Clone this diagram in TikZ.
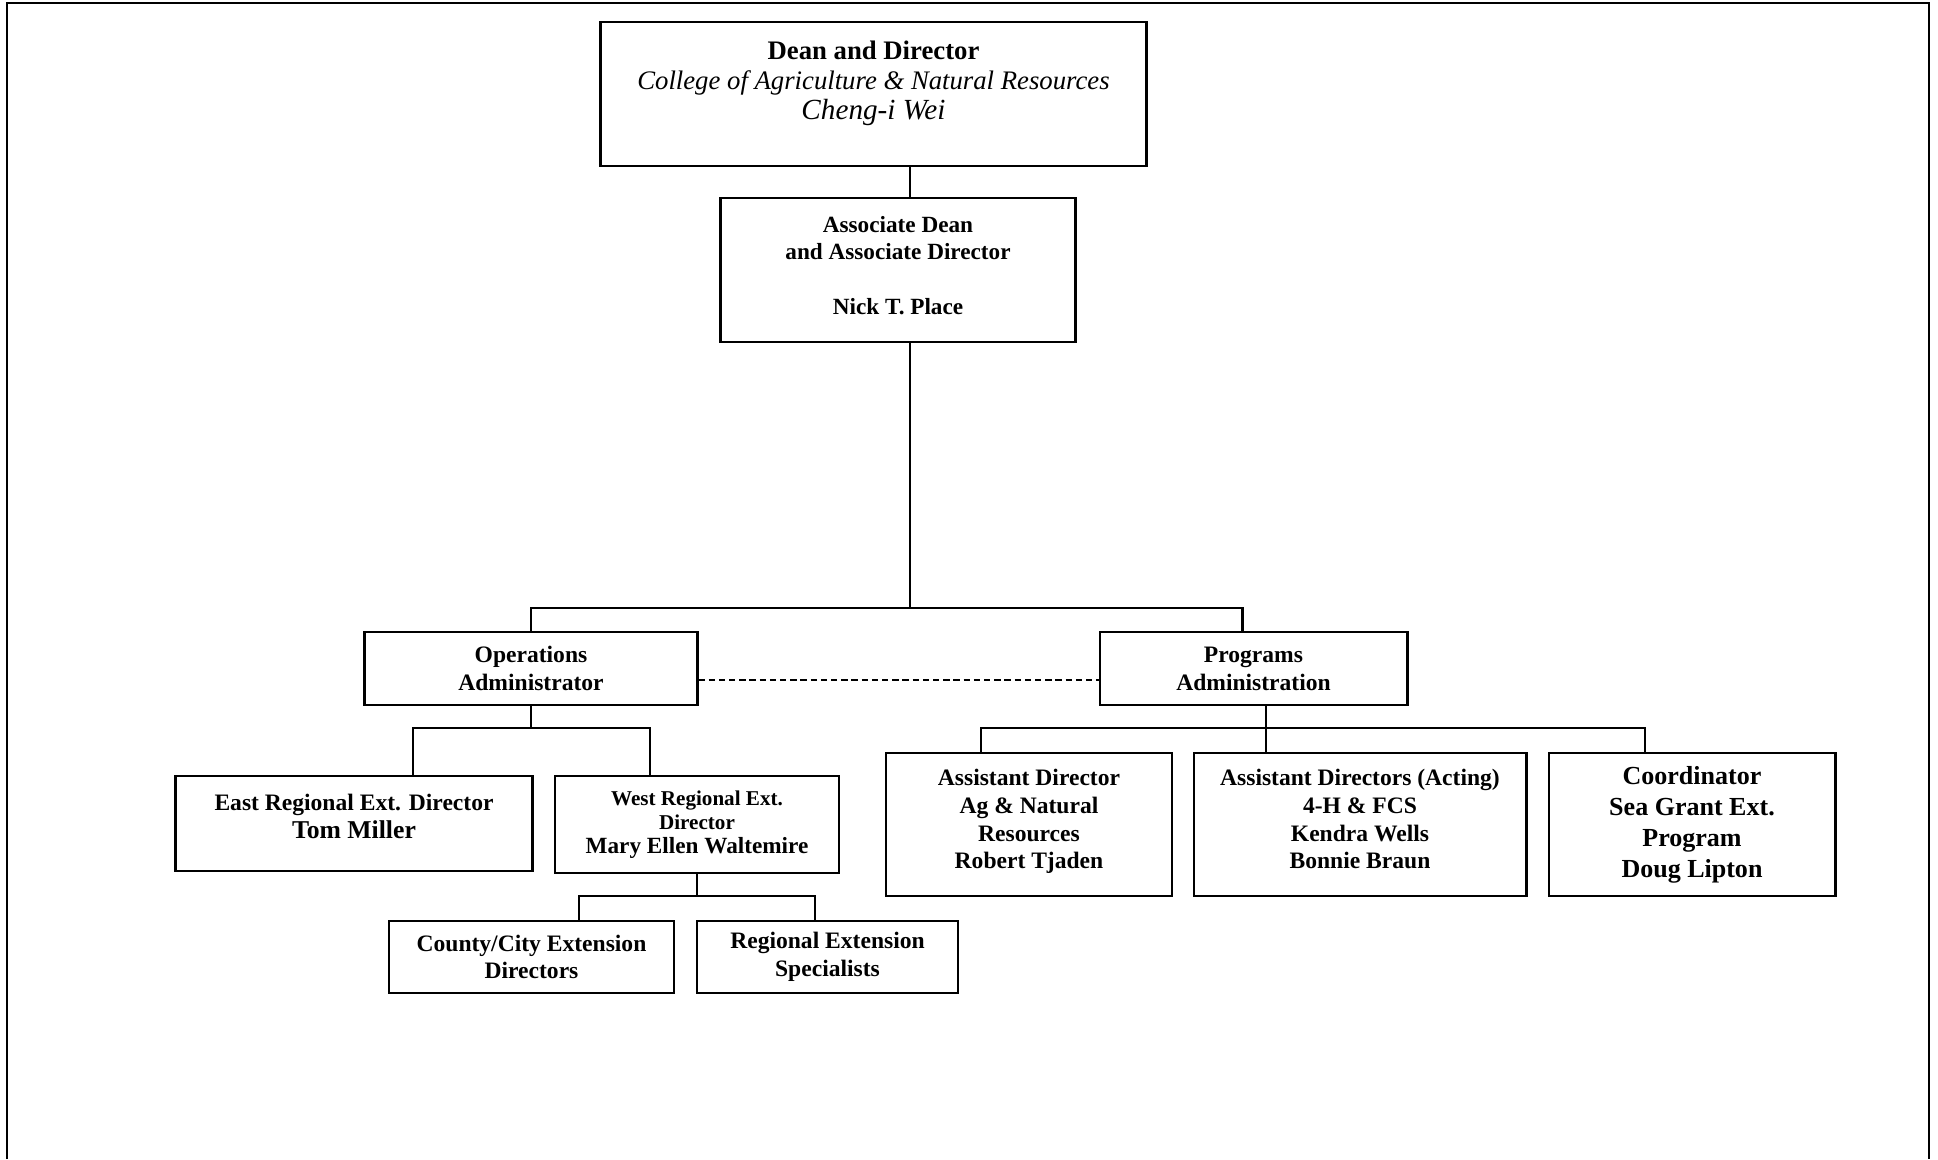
\documentclass[tikz,border=0pt]{standalone}
\usepackage{fontspec}
\setmainfont{Liberation Serif}
\usetikzlibrary{positioning}

\begin{document}
\begin{tikzpicture}[
			x=0.01cm, y=-0.01cm,
			box/.style={draw, rectangle, line width=0.8pt, inner sep=0pt, align=center, font=\fontsize{6.7}{7.9}\selectfont\bfseries},
			link/.style={line width=0.6pt},
			dashlink/.style={line width=0.8pt, dash pattern=on 1.8pt off 1.1pt}
			]
			\useasboundingbox (0,0) rectangle (1938,1159);
			% Cornice
			\draw[line width=0.5pt] (7,1159) -- (7,3) -- (1929,3) -- (1929,1159);
			
			% Nodi
			\node[box, minimum width=5.45cm, minimum height=1.44cm, font=\fontsize{7.6}{8.5}\selectfont] (dean) at (873.5,94)
				{\textbf{Dean and Director}\\\textit{College of Agriculture \& Natural Resources}\\{\fontsize{8.3}{9.4}\selectfont\itshape Cheng-i Wei}\\[-0.8pt]};
			\node[box, minimum width=3.54cm, minimum height=1.44cm, font=\fontsize{6.6}{7.7}\selectfont\bfseries] (assoc) at (898,270)
				{Associate Dean\\and Associate Director\\[7.9pt]Nick T. Place\\[-5.1pt]};
			\node[box, minimum width=3.32cm, minimum height=0.73cm] (ops) at (531,668.5) {Operations\\Administrator};
			\node[box, minimum width=3.07cm, minimum height=0.73cm] (prog) at (1253.5,668.5) {Programs\\Administration};
			\node[box, minimum width=3.56cm, minimum height=0.95cm] (east) at (354,823.5)
				{East Regional Ext. Director\\{\fontsize{7.3}{8.5}\selectfont Tom Miller}\\[-3.6pt]};
			\node[box, minimum width=2.84cm, minimum height=0.97cm, font=\fontsize{6.0}{6.8}\selectfont\bfseries] (west) at (697,824.5)
				{West Regional Ext.\\Director\\{\fontsize{6.6}{7.4}\selectfont Mary Ellen Waltemire}};
			\node[box, minimum width=2.85cm, minimum height=0.72cm] (county) at (531.5,957) {County/City Extension\\Directors};
			\node[box, minimum width=2.61cm, minimum height=0.72cm] (regional) at (827.5,957) {Regional Extension\\Specialists};
			\node[box, minimum width=2.86cm, minimum height=1.43cm] (agnr) at (1029,824.5)
				{Assistant Director\\Ag \& Natural\\Resources\\Robert Tjaden\\[-4.8pt]};
			\node[box, minimum width=3.32cm, minimum height=1.43cm] (acting) at (1360,824.5)
				{Assistant Directors (Acting)\\4-H \& FCS\\Kendra Wells\\Bonnie Braun\\[-4.8pt]};
			\node[box, minimum width=2.86cm, minimum height=1.43cm, font=\fontsize{7.4}{8.8}\selectfont\bfseries] (sea) at (1692,824.5)
				{Coordinator\\Sea Grant Ext.\\Program\\Doug Lipton};
			
			% Punti di snodo
			\coordinate (hub) at (910,608);
			\coordinate (opsbar) at (531,728);
			\coordinate (westbar) at (697,896);
			\coordinate (progbar) at (1266,728);
			
			% Linee gerarchiche
			\draw[link] (dean.south -| hub) -- (assoc.north -| hub);
			\draw[link] (assoc.south -| hub) -- (hub);
			\draw[link] (ops.north) |- (hub) -| ([xshift=-0.11cm]prog.north);
			\draw[link] (ops.south) -- (opsbar);
			\draw[link] ([xshift=0.59cm]east.north) |- (opsbar) -| ([xshift=-0.47cm]west.north);
			\draw[link] (west.south) -- (westbar);
			\draw[link] ([xshift=0.475cm]county.north) |- (westbar) -| ([xshift=-0.125cm]regional.north);
			\draw[link] (prog.south -| progbar) -- (acting.north -| progbar);
			\draw[link] ([xshift=-0.48cm]agnr.north) |- (progbar) -| ([xshift=-0.47cm]sea.north);
			
			% Collegamento funzionale
			\draw[dashlink] ([yshift=-0.115cm]ops.east) -- ([yshift=-0.115cm]prog.west);
		\end{tikzpicture}
\end{document}
